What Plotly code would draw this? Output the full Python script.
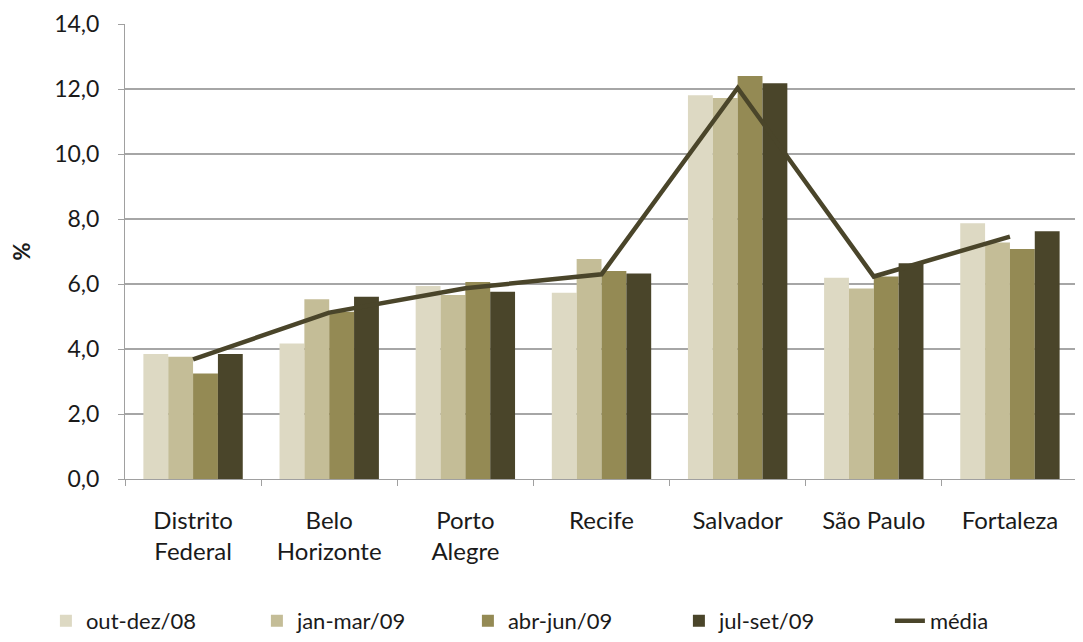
import plotly.graph_objects as go

categories = ["Distrito<br>Federal", "Belo<br>Horizonte", "Porto<br>Alegre", "Recife",
              "Salvador", "São Paulo", "Fortaleza"]
out_dez_08 = [3.85, 4.17, 5.94, 5.73, 11.81, 6.19, 7.87]
jan_mar_09 = [3.76, 5.53, 5.66, 6.77, 11.72, 5.86, 7.28]
abr_jun_09 = [3.25, 5.15, 6.06, 6.40, 12.40, 6.23, 7.08]
jul_set_09 = [3.85, 5.61, 5.76, 6.32, 12.18, 6.64, 7.62]
media = [3.68, 5.12, 5.87, 6.30, 12.03, 6.23, 7.46]
y_ticks = [0, 2, 4, 6, 8, 10, 12, 14]

series = [
    ("out-dez/08", out_dez_08, "#DDD9C3"),
    ("jan-mar/09", jan_mar_09, "#C4BD97"),
    ("abr-jun/09", abr_jun_09, "#948A54"),
    ("jul-set/09", jul_set_09, "#4A452A"),
]

fig = go.Figure()
for name, vals, col in series:
    fig.add_trace(go.Bar(x=categories, y=vals, name=name, marker_color=col,
                         marker_line_width=0))
fig.add_trace(go.Scatter(x=categories, y=media, name="média", mode="lines",
                         line=dict(color="#4A452A", width=4.5)))

font_family = "Lato, Open Sans, Liberation Sans, Arial"
fig.update_layout(
    width=1075, height=634,
    margin=dict(l=117, r=5, t=16, b=163, autoexpand=False),
    paper_bgcolor="white", plot_bgcolor="white",
    separators=",.",
    barmode="group", bargap=0.27, bargroupgap=0.0,
    font=dict(family=font_family, size=24, color="#1a1a1a"),
    legend=dict(orientation="h", x=-0.083, xanchor="left", y=-0.312, yanchor="middle",
                font=dict(size=22), entrywidth=166, entrywidthmode="pixels",
                traceorder="normal"),
    xaxis=dict(showline=True, linecolor="#A0A0A0", linewidth=1, automargin=False,
               ticks="outside", tickson="boundaries", ticklen=6, tickcolor="#A0A0A0",
               tickfont=dict(size=24), ticklabelstandoff=20, showgrid=False),
    yaxis=dict(range=[0, 14], tickvals=y_ticks, tickformat=".1f", automargin=False,
               showline=True, linecolor="#A0A0A0", linewidth=1,
               ticks="outside", ticklen=6, tickcolor="#A0A0A0",
               gridcolor="#A6A6A6", gridwidth=1.5,
               tickfont=dict(size=23), ticklabelstandoff=14,
               title=dict(text="<b>%</b>", font=dict(size=22), standoff=54)),
)
fig.write_html("out.html")
